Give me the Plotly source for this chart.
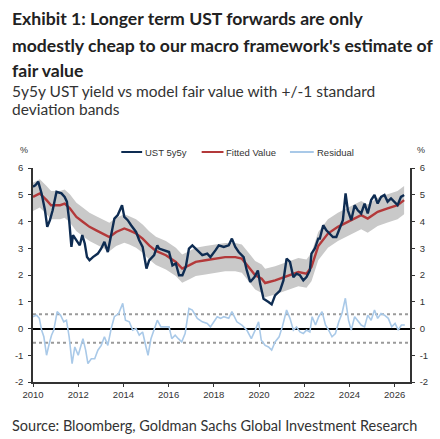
import plotly.graph_objects as go

# UST 5y5y forward yield (%)
ust_t = [2010.0, 2010.1, 2010.23, 2010.38, 2010.53, 2010.63, 2010.75, 2010.87, 2011.04, 2011.26,
         2011.4, 2011.5, 2011.6, 2011.7, 2011.77, 2011.92, 2012.07, 2012.18, 2012.29, 2012.39,
         2012.5, 2012.65, 2012.87, 2013.02, 2013.16, 2013.31, 2013.46, 2013.6, 2013.75, 2013.94,
         2014.04, 2014.19, 2014.34, 2014.56, 2014.7, 2014.85, 2015.02, 2015.14, 2015.36, 2015.5,
         2015.58, 2015.8, 2016.02, 2016.17, 2016.32, 2016.46, 2016.61, 2016.76, 2016.9, 2017.05,
         2017.27, 2017.49, 2017.71, 2017.85, 2018.07, 2018.22, 2018.44, 2018.66, 2018.8, 2018.95,
         2019.1, 2019.32, 2019.46, 2019.61, 2019.8, 2019.95, 2020.05, 2020.2, 2020.42, 2020.56,
         2020.71, 2020.93, 2021.08, 2021.22, 2021.37, 2021.52, 2021.66, 2021.81, 2021.96, 2022.1,
         2022.25, 2022.32, 2022.47, 2022.62, 2022.69, 2022.84, 2022.98, 2023.13, 2023.27, 2023.42,
         2023.57, 2023.71, 2023.83, 2023.93, 2024.08, 2024.23, 2024.37, 2024.52, 2024.67, 2024.81,
         2024.96, 2025.11, 2025.25, 2025.4, 2025.55, 2025.69, 2025.84, 2025.99, 2026.13, 2026.28,
         2026.42]
ust_v = [5.30, 5.35, 5.49, 5.05, 4.42, 3.80, 4.05, 4.42, 5.11, 5.05,
         4.92, 4.74, 4.05, 3.05, 3.49, 3.30, 3.11, 3.49, 3.18, 2.67,
         2.55, 2.67, 2.80, 2.99, 3.24, 2.86, 3.50, 4.11, 4.24, 4.61,
         4.17, 4.05, 3.86, 3.61, 3.30, 3.05, 2.24, 2.55, 2.74, 3.11,
         2.99, 2.92, 2.86, 2.36, 2.43, 1.99, 1.99, 2.30, 2.99, 3.11,
         2.92, 2.74, 2.80, 2.67, 2.92, 3.11, 3.05, 3.11, 3.36, 3.05,
         2.86, 2.67, 2.17, 1.74, 1.92, 2.17, 1.67, 1.11, 0.99, 0.90,
         1.24, 1.42, 1.80, 2.61, 2.49, 1.92, 2.05, 1.99, 1.80, 1.92,
         2.17, 2.80, 2.99, 3.36, 3.36, 3.86, 3.67, 3.55, 3.42, 3.42,
         3.74, 4.05, 5.05, 4.42, 4.05, 4.61, 4.42, 4.30, 4.67, 4.30,
         4.80, 4.99, 4.67, 4.92, 4.99, 4.74, 4.86, 4.74, 4.61, 4.92,
         4.99]

# model fitted value (%)
fit_t = [2010.0, 2010.3, 2010.6, 2010.8, 2011.2, 2011.4, 2011.63, 2011.92, 2012.2, 2012.5,
         2012.8, 2013.09, 2013.38, 2013.68, 2014.04, 2014.26, 2014.56, 2014.85, 2015.14, 2015.44,
         2015.88, 2016.32, 2016.6, 2016.9, 2017.2, 2017.63, 2018.07, 2018.5, 2018.95, 2019.24,
         2019.54, 2019.83, 2020.12, 2020.27, 2020.71, 2021.3, 2021.74, 2022.1, 2022.32, 2022.62,
         2023.05, 2023.49, 2023.93, 2024.23, 2024.52, 2024.81, 2025.25, 2025.69, 2026.13, 2026.42]
fit_v = [4.92, 5.05, 4.80, 4.61, 4.61, 4.67, 4.49, 4.17, 3.99, 3.80,
         3.67, 3.55, 3.42, 3.61, 3.74, 3.67, 3.55, 3.36, 3.11, 2.90,
         2.74, 2.49, 2.24, 2.36, 2.49, 2.55, 2.61, 2.67, 2.67, 2.61,
         2.30, 1.99, 1.86, 1.70, 1.80, 1.99, 2.11, 2.05, 2.30, 3.08,
         3.55, 3.80, 3.99, 4.11, 4.24, 4.11, 4.36, 4.49, 4.61, 4.80]

# residual (pp)
res_t = [2010.0, 2010.16, 2010.28, 2010.38, 2010.48, 2010.6, 2010.72, 2010.82, 2010.92, 2011.07,
         2011.22, 2011.36, 2011.48, 2011.6, 2011.73, 2011.85, 2012.0, 2012.11, 2012.21, 2012.33,
         2012.43, 2012.58, 2012.73, 2012.87, 2013.02, 2013.16, 2013.31, 2013.46, 2013.6, 2013.79,
         2013.97, 2014.09, 2014.26, 2014.41, 2014.56, 2014.7, 2014.85, 2015.0, 2015.09, 2015.22,
         2015.36, 2015.5, 2015.66, 2015.88, 2016.02, 2016.14, 2016.29, 2016.43, 2016.58, 2016.73,
         2016.9, 2017.05, 2017.27, 2017.49, 2017.71, 2017.85, 2018.0, 2018.15, 2018.3, 2018.44,
         2018.66, 2018.8, 2019.02, 2019.24, 2019.46, 2019.66, 2019.83, 2019.98, 2020.1, 2020.27,
         2020.42, 2020.56, 2020.71, 2020.89, 2021.03, 2021.22, 2021.37, 2021.52, 2021.66, 2021.81,
         2021.96, 2022.1, 2022.25, 2022.35, 2022.5, 2022.64, 2022.79, 2022.94, 2023.08, 2023.23,
         2023.38, 2023.53, 2023.67, 2023.82, 2023.96, 2024.08, 2024.23, 2024.37, 2024.52, 2024.67,
         2024.81, 2024.96, 2025.11, 2025.25, 2025.4, 2025.55, 2025.72, 2025.87, 2026.02, 2026.16,
         2026.3, 2026.45]
res_v = [0.44, 0.50, 0.38, -0.06, -0.31, -1.00, -0.56, -0.25, -0.06, 0.63,
         0.50, 0.25, 0.31, -0.31, -1.31, -0.69, -1.00, -0.63, -0.38, -0.81,
         -1.31, -1.13, -1.13, -0.81, -0.63, -0.31, -0.63, 0.00, 0.44, 0.56,
         0.94, 0.31, 0.25, -0.06, 0.00, -0.25, -0.13, -0.69, -1.00, -0.38,
         -0.06, 0.31, 0.06, 0.06, 0.06, -0.38, -0.25, -0.38, -0.50, -0.19,
         0.75, 0.69, 0.38, 0.25, 0.19, 0.06, 0.25, 0.44, 0.38, 0.44,
         0.38, 0.63, 0.25, 0.13, -0.06, -0.38, -0.06, 0.25, -0.44, -0.63,
         -0.69, -0.81, -0.50, -0.31, 0.06, 0.69, 0.38, -0.06, 0.06, -0.13,
         -0.19, -0.06, -0.13, 0.44, 0.13, 0.44, 0.63, 0.13, -0.06, -0.31,
         -0.19, 0.25, 0.56, 1.13, 0.31, -0.06, 0.44, 0.31, 0.13, 0.06,
         0.50, 0.31, 0.69, 0.38, 0.56, 0.50, 0.38, 0.06, 0.19, -0.06,
         0.13, 0.13]

sigma = 0.53  # 1 standard deviation of the residual

x_ticks = [2010, 2012, 2014, 2016, 2018, 2020, 2022, 2024, 2026]
y_ticks = [-2, -1, 0, 1, 2, 3, 4, 5, 6]
y_labels = ["-2", "-1", "0", "1", "2", "3", "4", "5", "6"]

NAVY = "#0e2c52"
RED = "#b3393a"
BAND = "#c9c9c9"
RESID = "#a9c9e8"
AXIS = "#333333"

# plot area in pixels (440 x 439 canvas)
L, R, T, B = 33, 413, 168, 382
W, H = 440, 439


def px(x):
    return (x - L) / (R - L)


def py(y):
    return (B - y) / (B - T)


fig = go.Figure()

# +/- 1 sd band around fitted value
fig.add_trace(go.Scatter(x=fit_t, y=[v + sigma for v in fit_v], mode="lines",
                         line=dict(width=0, color=BAND), hoverinfo="skip", showlegend=False))
fig.add_trace(go.Scatter(x=fit_t, y=[v - sigma for v in fit_v], mode="lines",
                         line=dict(width=0, color=BAND), fill="tonexty", fillcolor=BAND,
                         hoverinfo="skip", showlegend=False))

fig.add_trace(go.Scatter(x=res_t, y=res_v, mode="lines", name="Residual",
                         line=dict(color=RESID, width=1.6), showlegend=False))
fig.add_trace(go.Scatter(x=fit_t, y=fit_v, mode="lines", name="Fitted Value",
                         line=dict(color=RED, width=2.4), showlegend=False))
fig.add_trace(go.Scatter(x=ust_t, y=ust_v, mode="lines", name="UST 5y5y",
                         line=dict(color=NAVY, width=2.4), showlegend=False))
# right-hand axis mirror
fig.add_trace(go.Scatter(x=[x_ticks[0]], y=[None], yaxis="y2", showlegend=False,
                         hoverinfo="skip"))

# dotted +/- 1 sd lines on the residual
for lvl in (sigma, -sigma):
    fig.add_shape(type="line", xref="paper", x0=0, x1=1, yref="y", y0=lvl, y1=lvl,
                  line=dict(color="#9a9a9a", width=2, dash="dot"), layer="below")

# manual legend
legend_items = [("UST 5y5y", NAVY, 122, 143, 144),
                ("Fitted Value", RED, 203, 225, 226),
                ("Residual", RESID, 292, 316, 317)]
for label, col, x0, x1, xt in legend_items:
    fig.add_shape(type="line", xref="paper", yref="paper", x0=px(x0), x1=px(x1),
                  y0=py(152), y1=py(152), line=dict(color=col, width=2))
    fig.add_annotation(text=label, xref="paper", yref="paper", x=px(xt), y=py(152),
                       xanchor="left", yanchor="middle", showarrow=False,
                       font=dict(family="Liberation Sans", size=9.5, color=AXIS))

texts = [
    ("Exhibit 1: Longer term UST forwards are only", 18, 17.6, "bold", "#222222"),
    ("modestly cheap to our macro framework's estimate of", 45, 17.6, "bold", "#222222"),
    ("fair value", 71, 17.6, "bold", "#222222"),
    ("5y5y UST yield vs model fair value with +/-1 standard", 91, 15.5, "normal", "#333333"),
    ("deviation bands", 109, 15.5, "normal", "#333333"),
    ("Source: Bloomberg, Goldman Sachs Global Investment Research", 425, 14.5, "normal", "#333333"),
]
for txt, y, size, weight, col in texts:
    fig.add_annotation(text=txt, xref="paper", yref="paper", x=px(10), y=py(y),
                       xanchor="left", yanchor="middle", showarrow=False,
                       font=dict(family="Lato", size=size, color=col, weight=weight))

for xx in (24, 424):
    fig.add_annotation(text="%", xref="paper", yref="paper", x=px(xx), y=py(150),
                       xanchor="center", yanchor="middle", showarrow=False,
                       font=dict(family="Liberation Sans", size=9, color=AXIS))

yax = dict(range=[-2, 6], tickvals=y_ticks, ticktext=y_labels, showgrid=False,
           showline=True, linecolor=AXIS, linewidth=1.5, ticks="outside", ticklen=3,
           tickcolor=AXIS, tickfont=dict(family="Liberation Sans", size=9.5, color=AXIS),
           ticklabelstandoff=3, fixedrange=True)

fig.update_layout(
    width=W, height=H,
    margin=dict(l=L, r=W - R, t=T, b=H - B),
    paper_bgcolor="white", plot_bgcolor="white",
    xaxis=dict(range=[2010, 2026.68], tickvals=x_ticks, showgrid=False, showline=True,
               linecolor=AXIS, linewidth=1.5, ticks="outside", ticklen=3, tickcolor=AXIS,
               tickfont=dict(family="Liberation Sans", size=9.5, color=AXIS), zeroline=False),
    yaxis=dict(**yax, zeroline=True, zerolinecolor="#000000", zerolinewidth=1.5),
    yaxis2=dict(**yax, overlaying="y", side="right", zeroline=False),
    showlegend=False,
)

# the page's default body margin would push the figure off the window
fig.write_html("out.html", config={"displayModeBar": False},
               post_script="document.body.style.margin='0px';")
